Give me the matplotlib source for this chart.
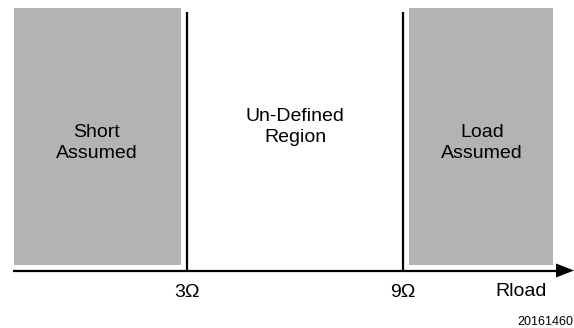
import matplotlib
matplotlib.use("Agg")
import matplotlib.pyplot as plt
from matplotlib.patches import Rectangle, Polygon

plt.rcParams['font.family'] = ['Liberation Sans', 'DejaVu Sans']

# Data
thresholds = [3, 9]
threshold_labels = ["3\u03A9", "9\u03A9"]
region_labels = ["Short\nAssumed", "Un-Defined\nRegion", "Load\nAssumed"]
axis_label = "Rload"
figure_id = "20161460"

W, H = 574, 328
fig = plt.figure(figsize=(W / 100, H / 100), dpi=100)
ax = fig.add_axes([0, 0, 1, 1])
# x: ohms (3 -> 187px, 9 -> 403px); y: pixels from top
px_per_unit = (403 - 187) / (thresholds[1] - thresholds[0])
x0 = thresholds[0] - 187 / px_per_unit
ax.set_xlim(x0, x0 + W / px_per_unit)
ax.set_ylim(H, 0)
ax.axis('off')

def px(x):
    return x0 + x / px_per_unit

gray = '#b3b3b3'
axis_y = 270.5
box_top, box_bot = 8, 265
# shaded regions
ax.add_patch(Rectangle((px(14), box_top), px(181) - px(14), box_bot - box_top,
                       facecolor=gray, edgecolor='none'))
ax.add_patch(Rectangle((px(409), box_top), px(553) - px(409), box_bot - box_top,
                       facecolor=gray, edgecolor='none'))

# threshold lines
for t in thresholds:
    ax.plot([t, t], [12, axis_y], color='black', lw=1.6, solid_capstyle='butt')

# horizontal axis with arrow
ax.plot([px(13), px(558)], [axis_y, axis_y], color='black', lw=1.6, solid_capstyle='butt')
ax.add_patch(Polygon([[px(556), axis_y - 7], [px(574), axis_y], [px(556), axis_y + 7]],
                     closed=True, facecolor='black', edgecolor='none'))

# threshold labels
for t, lab in zip(thresholds, threshold_labels):
    ax.text(t, 297, lab, ha='center', va='baseline', fontsize=14)
ax.text(px(521), 296, axis_label, ha='center', va='baseline', fontsize=14)

# region labels
centers = [px(97), (thresholds[0] + thresholds[1]) / 2, px(482)]
ys = [143, 127, 143]
for c, y, lab in zip(centers, ys, region_labels):
    ax.text(c, y, lab, ha='center', va='center', fontsize=14, linespacing=1.25)

ax.text(px(573), 325, figure_id, ha='right', va='baseline', fontsize=9)

fig.savefig("out.png", dpi=100)
